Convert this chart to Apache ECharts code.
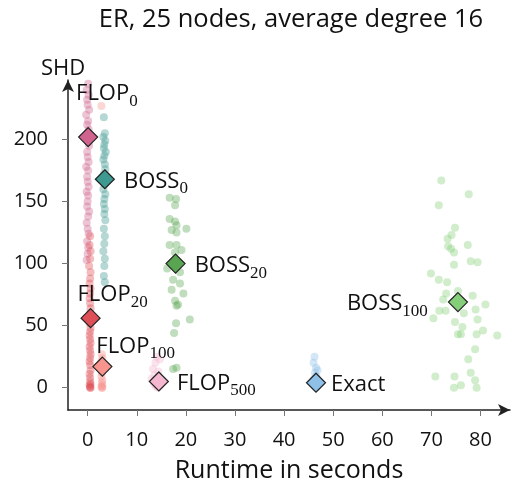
<!DOCTYPE html>
<html>
<head>
<meta charset="utf-8">
<script src="https://cdn.jsdelivr.net/npm/echarts@6/dist/echarts.min.js"></script>
<style>html,body{margin:0;padding:0;background:#fff}#c{width:513px;height:483px}</style>
</head>
<body>
<div id="c"></div>
<script>
// ---- data ----
const xTicks = [0, 10, 20, 30, 40, 50, 60, 70, 80];
const yTicks = [0, 50, 100, 150, 200];

const flop0Runtime = [0.1,-0.2,0.2,-0.1,0.0,0.3,-0.3,0.1,-0.1,0.2,0.0,-0.2,0.1,0.3,-0.1,0.0,0.2,-0.3,0.1,-0.1,0.0,0.2,-0.2,0.1,0.0,-0.1,0.3,0.1,-0.2,0.0,0.2,-0.1,0.1,0.0,-0.2];
const flop0SHD = [245,240,236,232,228,224,220,215,212,208,205,202,198,195,190,186,182,178,175,170,166,162,158,155,150,146,142,138,133,128,124,118,113,108,103];

const flop20Runtime = [0.5,0.4,0.6,0.5,0.3,0.6,0.5,0.4,0.6,0.5,0.4,0.5,0.6,0.5,0.4,0.6,0.5,0.4,0.5,0.6,0.4,0.5,0.6,0.5,0.4,0.5,0.6,0.4,0.5,0.5,0.6,0.4,0.5,0.6,0.5];
const flop20SHD = [122,115,110,104,98,93,88,84,80,76,72,68,64,60,52,48,45,42,39,36,33,30,27,24,21,18,14,11,8,5,3,2,1,0,0];

const flop100Runtime = [2.8,2.9,3.0,2.8,2.9,3.1,2.9,2.8,3.0,2.9,3.0,2.8,2.9,3.0];
const flop100SHD = [227,27,24,21,18,15,12,9,6,4,2,1,0,0];

const flop500Runtime = [14.0,14.7,13.8,13.3,14.4,13.6,13.0,14.2,13.5,14.8,13.9,14.3];
const flop500SHD = [25,23,20,15,13,10,7,4,3,2,1,0];

const boss0Runtime = [3.3,3.5,3.2,3.6,3.4,3.3,3.7,3.4,3.2,3.5,3.6,3.3,3.4,3.5,3.2,3.6,3.4,3.3,3.5,3.4,3.6,3.3,3.5,3.4,3.2,3.5,3.4,3.3,3.5];
const boss0SHD = [218,205,202,199,196,193,190,187,184,180,176,172,168,164,160,156,152,148,144,140,135,128,122,116,110,104,98,90,85];

const boss20Runtime = [16.7,18.0,17.8,16.7,17.8,18.1,20.1,17.1,18.1,16.7,18.1,19.1,17.8,16.2,18.8,17.4,18.8,17.1,19.5,17.8,18.4,18.1,20.8,18.0,17.6,18.1,17.4];
const boss20SHD = [153,152,147,136,134,131,128,127,125,115,115,111,109,96,93,87,84,79,76,70,67,66,55,52,44,16,15];

const boss100Runtime = [72.0,77.6,71.5,74.8,74.1,73.3,77.4,73.4,74.0,74.6,78.0,79.4,74.6,69.9,71.5,73.2,75.4,73.0,78.4,72.4,81.0,79.0,71.6,72.9,76.6,70.4,74.8,79.4,76.3,80.5,75.4,76.0,79.2,83.4,78.9,77.5,70.8,74.7,78.0,78.9,76.0,74.6,79.2];
const boss100SHD = [167,156,147,129,123,120,115,114,112,109,102,101,99,92,87,85,78,76,74,71,67,63,62,62,60,56,53,55,49,46,43,43,43,42,31,23,9,9,12,6,2,0,0];

const exactRuntime = [46.2,46.0,46.5,46.8,46.3,46.6,46.1,46.9,46.4,46.2,46.7,46.5];
const exactSHD = [25,20,16,14,12,9,7,5,3,2,1,0];

const methodMain = ['FLOP','FLOP','FLOP','FLOP','BOSS','BOSS','BOSS','Exact'];
const methodSub = ['0','20','100','500','0','20','100',''];
const summaryRuntime = [0.1, 0.6, 3.0, 14.5, 3.5, 17.9, 75.4, 46.5];
const summarySHD = [202, 56, 17, 5, 168, 100, 69, 4];
const methodColors = ['#d0648e','#df4f58','#f7948e','#f5b6d0','#3e9991','#5aa552','#86cf7a','#8fc1e8'];

const runs = [
  [flop0Runtime, flop0SHD], [flop20Runtime, flop20SHD], [flop100Runtime, flop100SHD], [flop500Runtime, flop500SHD],
  [boss0Runtime, boss0SHD], [boss20Runtime, boss20SHD], [boss100Runtime, boss100SHD], [exactRuntime, exactSHD]
];

// ---- styling ----
const SANS = '"Open Sans", sans-serif';
const SERIF = '"Liberation Serif", serif';
const labelPlacement = [
  {position: [-2, -35]},            // FLOP0
  {position: [-3, -15]},            // FLOP20
  {position: [4, -12]},             // FLOP100
  {position: 'right', distance: 8}, // FLOP500
  {position: 'right', distance: 9}, // BOSS0
  {position: 'right', distance: 9}, // BOSS20
  {position: 'left', distance: 20}, // BOSS100
  {position: 'right', distance: 5}  // Exact
];

const series = [];
runs.forEach((r, i) => {
  series.push({
    type: 'scatter',
    data: r[0].map((x, k) => [x, r[1][k]]),
    symbol: 'circle',
    symbolSize: 8,
    itemStyle: {color: methodColors[i], opacity: 0.38},
    z: 2,
    silent: true
  });
});
series.push({
  type: 'scatter',
  z: 5,
  symbol: 'diamond',
  symbolSize: 19,
  data: summaryRuntime.map((x, i) => ({
    value: [x, summarySHD[i]],
    itemStyle: {color: methodColors[i], borderColor: '#222', borderWidth: 1.2, opacity: 1},
    label: Object.assign({
      show: true,
      verticalAlign: 'middle',
      formatter: methodSub[i] ? '{m|' + methodMain[i] + '}{s|' + methodSub[i] + '}' : '{m|' + methodMain[i] + '}',
      rich: {
        m: {fontFamily: SANS, fontSize: 22, color: '#111', verticalAlign: 'bottom', lineHeight: 26},
        s: {fontFamily: SERIF, fontSize: 17, color: '#111', verticalAlign: 'bottom', lineHeight: 26, padding: [0,0,-5,0]}
      }
    }, labelPlacement[i])
  }))
});

const chart = echarts.init(document.getElementById('c'), null, {renderer: 'canvas'});
chart.setOption({
  animation: false,
  backgroundColor: '#fff',
  title: {
    text: 'ER, 25 nodes, average degree 16',
    left: 286, top: 2, textAlign: 'center',
    textStyle: {fontFamily: SANS, fontSize: 25.5, fontWeight: 'normal', color: '#111'}
  },
  grid: {left: 68, right: 3, top: 80, bottom: 73, outerBoundsMode: 'none', containLabel: false},
  xAxis: {
    type: 'value', min: -4, max: 86,
    name: 'Runtime in seconds', nameLocation: 'middle', nameGap: 48,
    nameTextStyle: {fontFamily: SANS, fontSize: 25, color: '#111'},
    axisLine: {show: true, onZero: false, symbol: ['none', 'arrow'], symbolSize: [9, 12], lineStyle: {color: '#222', width: 1.5}},
    axisTick: {show: true, length: 6, lineStyle: {color: '#777'}, customValues: xTicks},
    axisLabel: {fontFamily: SANS, fontSize: 20, color: '#111', margin: 20, customValues: xTicks},
    splitLine: {show: false}
  },
  yAxis: {
    type: 'value', min: -18, max: 248,
    name: 'SHD', nameLocation: 'end', nameGap: 0,
    nameTextStyle: {fontFamily: SANS, fontSize: 22, color: '#111', align: 'center', padding: [0, 0, 0, -10]},
    axisLine: {show: true, onZero: false, symbol: ['none', 'arrow'], symbolSize: [9, 12], lineStyle: {color: '#222', width: 1.5}},
    axisTick: {show: true, length: 6, lineStyle: {color: '#777'}, customValues: yTicks},
    axisLabel: {fontFamily: SANS, fontSize: 20, color: '#111', margin: 20, customValues: yTicks},
    splitLine: {show: false}
  },
  series: series
});
</script>
</body>
</html>
